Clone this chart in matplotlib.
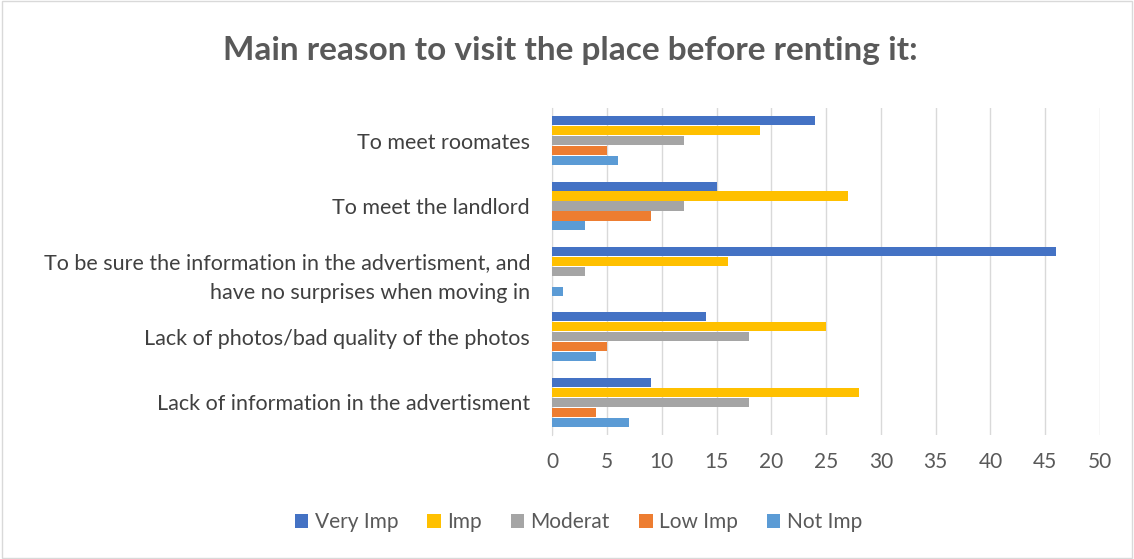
import numpy as np
import matplotlib.pyplot as plt

plt.rcParams['font.family'] = ['Lato', 'DejaVu Sans']

categories = [
    "To meet roomates",
    "To meet the landlord",
    "To be sure the information in the advertisment, and\nhave no surprises when moving in",
    "Lack of photos/bad quality of the photos",
    "Lack of information in the advertisment",
]
series = ["Very Imp", "Imp", "Moderat", "Low Imp", "Not Imp"]
very_imp = [24, 15, 46, 14, 9]
imp = [19, 27, 16, 25, 28]
moderat = [12, 12, 3, 18, 18]
low_imp = [5, 9, 0, 5, 4]
not_imp = [6, 3, 1, 4, 7]
values = [very_imp, imp, moderat, low_imp, not_imp]
colors = ["#4472C4", "#FFC000", "#A5A5A5", "#ED7D31", "#5B9BD5"]
xticks = list(range(0, 51, 5))

fig = plt.figure(figsize=(11.34, 5.59), dpi=100)
ax = fig.add_axes([0.487, 0.222, 0.483, 0.585])

y = np.arange(len(categories))
h = 0.152
for j, (name, vals, c) in enumerate(zip(series, values, colors)):
    ax.barh(y + (j - 2) * h, vals, height=h * 0.92, color=c, label=name, zorder=3)

ax.set_ylim(len(categories) - 0.5, -0.5)
ax.set_xlim(0, 50)
ax.set_xticks(xticks)
ax.set_yticks(y)
ax.set_yticklabels(categories, fontsize=15.5, color="#404040", linespacing=1.6)
ax.tick_params(axis='x', labelsize=15, colors="#595959", length=0, pad=12)
ax.tick_params(axis='y', length=0, pad=16)
ax.grid(axis='x', color="#D9D9D9", linewidth=1, zorder=0)
for s in ['top', 'right', 'bottom']:
    ax.spines[s].set_visible(False)
ax.spines['left'].set_color("#D9D9D9")

fig.suptitle("Main reason to visit the place before renting it:", x=0.503, y=0.935,
             fontsize=24, fontweight='bold', color="#595959")

fig.legend(loc='center', bbox_to_anchor=(0.51, 0.066), ncol=5, frameon=False,
           fontsize=15, handlelength=0.65, handleheight=0.65, handletextpad=0.3,
           columnspacing=1.4, labelcolor="#595959")

fig.patches.append(plt.Rectangle((0.002, 0.002), 0.996, 0.996, transform=fig.transFigure,
                                 fill=False, edgecolor="#D9D9D9", linewidth=1))

fig.savefig("out.png", dpi=100)
